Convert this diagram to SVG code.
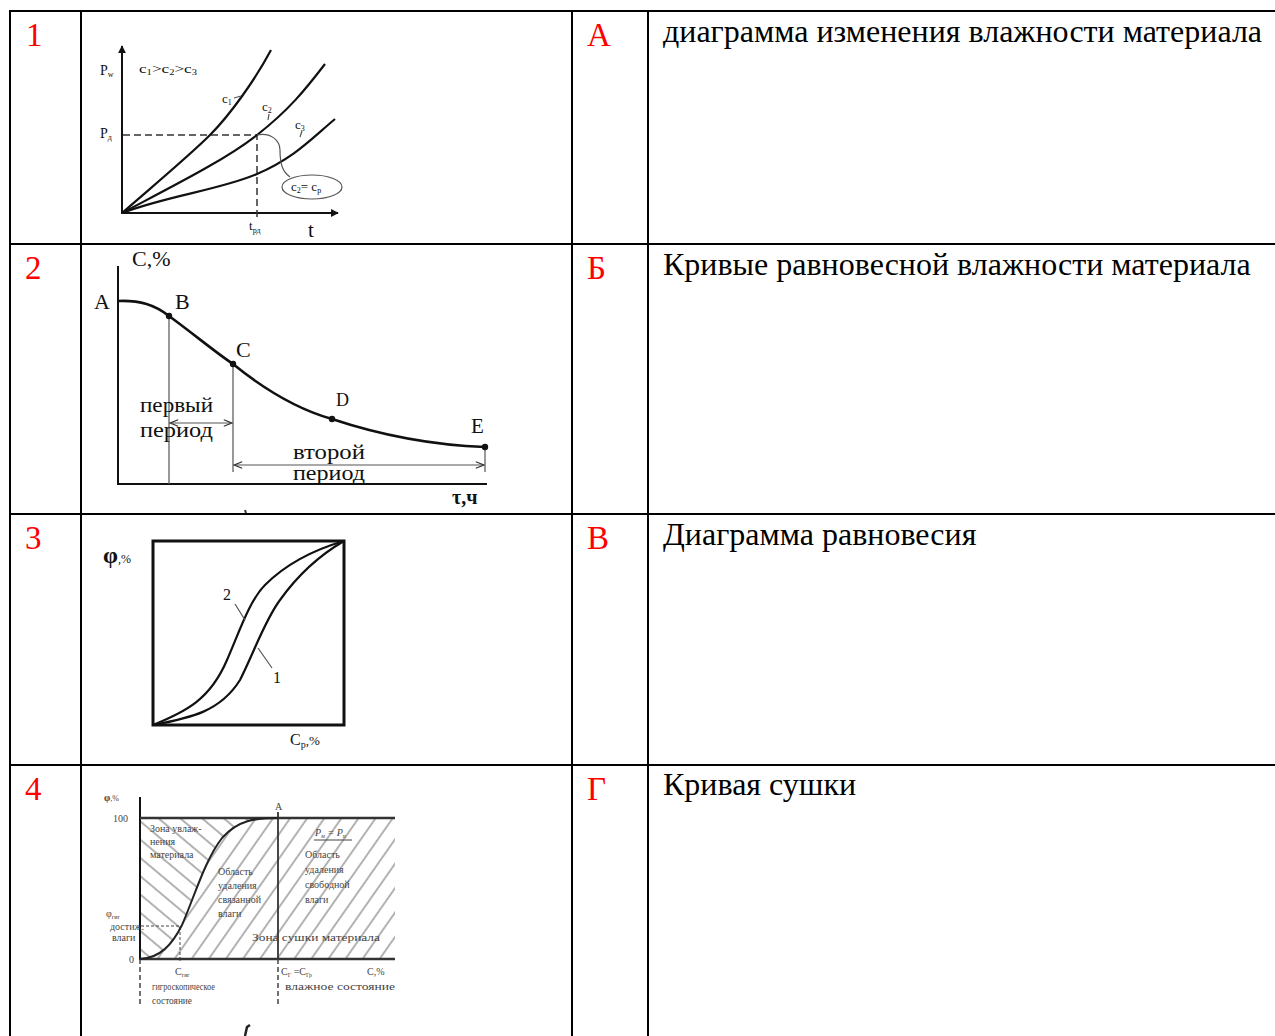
<svg xmlns="http://www.w3.org/2000/svg" width="1275" height="1036" viewBox="0 0 1275 1036">
<style>
.grid{stroke:#000;stroke-width:2;fill:none}
.num{font-family:"Liberation Serif",serif;font-size:33px;fill:#ff0000}
.desc{font-family:"Liberation Serif",serif;font-size:32px;fill:#000}
.g{font-family:"Liberation Serif",serif;fill:#111}
.ax{stroke:#111;stroke-width:2;fill:none}
.cv{stroke:#111;stroke-width:2.2;fill:none}
.thin{stroke:#555;stroke-width:1.2;fill:none}
.dash{stroke:#333;stroke-width:1.5;fill:none;stroke-dasharray:7 4}
.t4{font-family:"Liberation Serif",serif;font-size:10px;fill:#444}
</style>
<defs>
<marker id="arr" viewBox="0 0 10 10" refX="9" refY="5" markerWidth="8" markerHeight="8" orient="auto-start-reverse" markerUnits="userSpaceOnUse"><path d="M0,0 L10,5 L0,10 z" fill="#111"/></marker>
<marker id="open" viewBox="0 0 10 10" refX="9" refY="5" markerWidth="10" markerHeight="8" orient="auto-start-reverse" markerUnits="userSpaceOnUse"><path d="M0,1 L10,5 L0,9" fill="none" stroke="#333" stroke-width="1.5"/></marker>
<pattern id="hb" patternUnits="userSpaceOnUse" width="14" height="14" patternTransform="rotate(40)"><line x1="0" y1="7" x2="14" y2="7" stroke="#666" stroke-width="1"/></pattern>
<pattern id="hf" patternUnits="userSpaceOnUse" width="14" height="14" patternTransform="rotate(-55)"><line x1="0" y1="7" x2="14" y2="7" stroke="#666" stroke-width="1"/></pattern>
</defs>

<g id="table">
<line class="grid" x1="9" y1="11" x2="1275" y2="11"/>
<line class="grid" x1="9" y1="244" x2="1275" y2="244"/>
<line class="grid" x1="9" y1="514" x2="1275" y2="514"/>
<line class="grid" x1="9" y1="765" x2="1275" y2="765"/>
<line class="grid" x1="10" y1="10" x2="10" y2="1036"/>
<line class="grid" x1="81" y1="10" x2="81" y2="1036"/>
<line class="grid" x1="572" y1="10" x2="572" y2="1036"/>
<line class="grid" x1="648" y1="10" x2="648" y2="1036"/>
</g>

<g id="labels">
<text class="num" x="26" y="46">1</text>
<text class="num" x="25" y="279">2</text>
<text class="num" x="25" y="549">3</text>
<text class="num" x="25" y="800">4</text>
<text class="num" x="587" y="46">А</text>
<text class="num" x="587" y="279">Б</text>
<text class="num" x="587" y="549">В</text>
<text class="num" x="587" y="800">Г</text>
<text class="desc" x="663" y="42">диаграмма изменения влажности материала</text>
<text class="desc" x="663" y="275">Кривые равновесной влажности материала</text>
<text class="desc" x="663" y="545">Диаграмма равновесия</text>
<text class="desc" x="663" y="795">Кривая сушки</text>
</g>

<g id="graph1">
<line class="ax" x1="122" y1="214" x2="122" y2="46" marker-end="url(#arr)"/>
<line class="ax" x1="121" y1="213" x2="338" y2="213" marker-end="url(#arr)"/>
<path class="dash" d="M123,135 H257 V220"/>
<path class="cv" d="M122,213 C160,180 190,155 210,135 S255,80 271,50"/>
<path class="cv" d="M122,213 C175,185 225,160 257,135 S305,90 325,64"/>
<path class="cv" d="M122,213 C170,195 220,190 257,174 S310,140 335,119"/>
<path class="thin" d="M257,135 C270,132 280,140 280,150 C280,165 283,172 290,177"/>
<ellipse cx="312" cy="187" rx="30" ry="12" class="thin"/>
<path class="thin" d="M234,98 L241,96 M269,114 L268,120 M302,131 L300,137"/>
<text class="g" x="100" y="75" font-size="14">P<tspan font-size="8" dy="2">w</tspan></text>
<text class="g" x="139" y="73" font-size="13" textLength="58" lengthAdjust="spacingAndGlyphs">c<tspan font-size="8" dy="2">1</tspan><tspan dy="-2">&gt;c</tspan><tspan font-size="8" dy="2">2</tspan><tspan dy="-2">&gt;c</tspan><tspan font-size="8" dy="2">3</tspan></text>
<text class="g" x="100" y="138" font-size="14">P<tspan font-size="8" dy="2">д</tspan></text>
<text class="g" x="222" y="103" font-size="13">c<tspan font-size="8" dy="2">1</tspan></text>
<text class="g" x="262" y="111" font-size="13">c<tspan font-size="8" dy="2">2</tspan></text>
<text class="g" x="295" y="129" font-size="13">c<tspan font-size="8" dy="2">3</tspan></text>
<text class="g" x="291" y="191" font-size="13">c<tspan font-size="8" dy="2">2</tspan><tspan dy="-2">= c</tspan><tspan font-size="8" dy="2">р</tspan></text>
<text class="g" x="249" y="230" font-size="13">t<tspan font-size="8" dy="3">рд</tspan></text>
<text class="g" x="308" y="237" font-size="21">t</text>
</g>

<g id="graph2">
<line class="ax" x1="118" y1="266" x2="118" y2="485"/>
<line class="ax" x1="117" y1="484" x2="487" y2="484"/>
<path class="thin" d="M169,316 V484 M233,364 V472 M485,447 V472"/>
<path d="M118,301 C140,300 155,305 169,316 C195,335 215,352 233,364 C265,390 300,410 332,419 C380,435 430,445 485,447" stroke="#111" stroke-width="2.6" fill="none"/>
<circle cx="169" cy="316" r="3.2" fill="#111"/>
<circle cx="233" cy="364" r="3.2" fill="#111"/>
<circle cx="332" cy="419" r="3.2" fill="#111"/>
<circle cx="485" cy="447" r="3.2" fill="#111"/>
<line class="thin" x1="171" y1="423" x2="231" y2="423" marker-start="url(#open)" marker-end="url(#open)"/>
<line class="thin" x1="235" y1="465" x2="483" y2="465" marker-start="url(#open)" marker-end="url(#open)"/>
<text class="g" x="132" y="266" font-size="22">С,%</text>
<text class="g" x="94" y="309" font-size="22">A</text>
<text class="g" x="175" y="309" font-size="22">B</text>
<text class="g" x="236" y="357" font-size="22">C</text>
<text class="g" x="336" y="406" font-size="18">D</text>
<text class="g" x="471" y="433" font-size="21">E</text>
<text class="g" x="140" y="412" font-size="22" textLength="73" lengthAdjust="spacingAndGlyphs">первый</text>
<text class="g" x="140" y="437" font-size="22" textLength="73" lengthAdjust="spacingAndGlyphs">период</text>
<text class="g" x="293" y="459" font-size="20" textLength="72" lengthAdjust="spacingAndGlyphs">второй</text>
<text class="g" x="293" y="480" font-size="20" textLength="72" lengthAdjust="spacingAndGlyphs">период</text>
<text class="g" x="452" y="504" font-size="20" font-weight="bold">τ,ч</text>
<line x1="245" y1="510" x2="246" y2="513" stroke="#333" stroke-width="2"/>
</g>

<g id="graph3">
<rect x="153" y="541" width="191" height="184" stroke="#111" stroke-width="3" fill="none"/>
<path class="cv" d="M153,725 C185,712 210,700 227,660 C240,630 250,600 265,585 C290,560 320,548 344,541"/>
<path class="cv" d="M153,725 C190,718 220,712 240,680 C255,650 265,620 280,600 C300,572 320,555 344,541"/>
<path class="thin" d="M235,604 L245,620 M258,648 L272,668" stroke="#222"/>
<text class="g" x="103" y="563" font-size="24" font-weight="bold">φ<tspan font-size="12" font-weight="normal">,%</tspan></text>
<text class="g" x="223" y="600" font-size="16">2</text>
<text class="g" x="273" y="683" font-size="16">1</text>
<text class="g" x="290" y="745" font-size="16">C<tspan font-size="10" dy="3">p</tspan><tspan font-size="13" dy="-3">,%</tspan></text>
</g>

<g id="graph4">
<path d="M140,818 L278,818 C255,818 238,820 222,838 C205,860 195,895 182,925 C172,945 160,958 140,959 Z" fill="url(#hb)"/>
<path d="M278,818 L278,959 L140,959 C160,958 172,945 182,925 C195,895 205,860 222,838 C238,820 255,818 278,818 Z" fill="url(#hf)"/>
<rect x="278" y="818" width="117" height="141" fill="url(#hf)"/>
<line class="ax" x1="140" y1="797" x2="140" y2="960"/>
<line x1="140" y1="818" x2="395" y2="818" stroke="#333" stroke-width="2.5"/>
<line x1="140" y1="959" x2="395" y2="959" stroke="#333" stroke-width="2.5"/>
<line x1="278" y1="812" x2="278" y2="959" stroke="#333" stroke-width="1.8"/>
<path d="M140,959 V1006 M278,959 V1006" stroke="#444" stroke-width="1.5" stroke-dasharray="5 3" fill="none"/>
<path d="M141,926 H180 V958" stroke="#444" stroke-width="1" stroke-dasharray="3 2" fill="none"/>
<path d="M140,959 C160,958 172,945 182,925 C195,895 205,860 222,838 C238,820 255,818 278,818" stroke="#222" stroke-width="2" fill="none"/>
<circle cx="180" cy="959" r="1.5" fill="#333"/>
<text class="t4" x="104" y="801" font-size="15" font-weight="bold">φ<tspan font-size="8" font-weight="normal">,%</tspan></text>
<text class="t4" x="113" y="822" font-size="9">100</text>
<text class="t4" x="129" y="963" font-size="9">0</text>
<text class="t4" x="275" y="810" font-size="9">A</text>
<text class="t4" x="106" y="917" font-size="10">φ<tspan font-size="6" dy="2">гиг</tspan></text>
<text class="t4" x="110" y="930" font-size="5">достиж.</text>
<text class="t4" x="112" y="941" font-size="5">влаги</text>
<text class="t4" x="150" y="832">Зона увлаж-</text>
<text class="t4" x="150" y="845">нения</text>
<text class="t4" x="150" y="858">материала</text>
<text class="t4" x="218" y="875">Область</text>
<text class="t4" x="218" y="889">удаления</text>
<text class="t4" x="218" y="903">связанной</text>
<text class="t4" x="218" y="917">влаги</text>
<text class="t4" x="315" y="836" font-style="italic">P<tspan font-size="6" dy="2">м</tspan><tspan dy="-2"> = P</tspan><tspan font-size="6" dy="2">п</tspan></text>
<line x1="314" y1="840" x2="352" y2="840" stroke="#444" stroke-width="1"/>
<text class="t4" x="305" y="858">Область</text>
<text class="t4" x="305" y="873">удаления</text>
<text class="t4" x="305" y="888">свободной</text>
<text class="t4" x="305" y="903">влаги</text>
<text class="t4" x="252" y="941" textLength="128" lengthAdjust="spacingAndGlyphs">Зона сушки материала</text>
<text class="t4" x="175" y="975">С<tspan font-size="6" dy="2">гиг</tspan></text>
<text class="t4" x="281" y="975">С<tspan font-size="6" dy="2">Г</tspan><tspan dy="-2"> =С</tspan><tspan font-size="6" dy="2">Гр</tspan></text>
<text class="t4" x="367" y="975">С,%</text>
<text class="t4" x="152" y="990" textLength="63" lengthAdjust="spacingAndGlyphs">гигроскопическое</text>
<text class="t4" x="152" y="1004" textLength="40" lengthAdjust="spacingAndGlyphs">состояние</text>
<text class="t4" x="285" y="990" textLength="110" lengthAdjust="spacingAndGlyphs">влажное состояние</text>
<path d="M245,1036 L247,1027 L250,1025" stroke="#222" stroke-width="2.5" fill="none"/>
</g>
</svg>
